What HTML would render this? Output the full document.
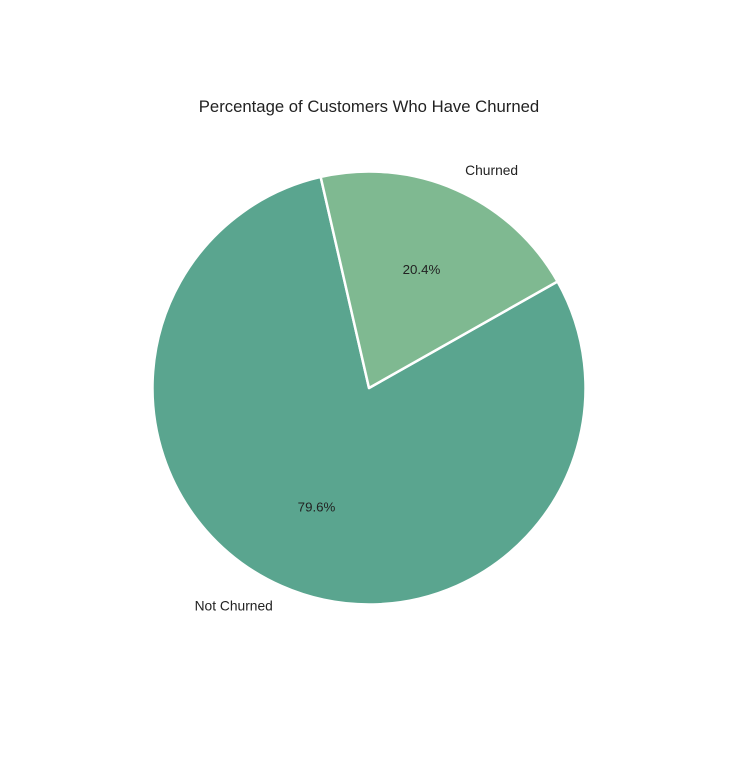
<!DOCTYPE html>
<html>
<head>
<meta charset="utf-8">
<style>
  html,body{margin:0;padding:0;background:#fff;}
  svg{display:block;font-family:"Liberation Sans",Arial,sans-serif;}
</style>
</head>
<body>
<svg id="chart" width="739" height="759" viewBox="0 0 739 759">
  <text x="369" y="112" text-anchor="middle" font-size="16.7" fill="#222">Percentage of Customers Who Have Churned</text>
  <g id="slices"></g>
</svg>
<script>
const categories = ["Not Churned", "Churned"];
const values = [79.6, 20.4];
const pctLabels = ["79.6%", "20.4%"];
const colors = ["#5aa58f", "#7fb991"];

const cx = 369, cy = 388, r = 216.5, startAngle = 102.9;
const g = document.getElementById('slices');
const ns = "http://www.w3.org/2000/svg";
const total = values.reduce((a,b)=>a+b,0);
function pt(angDeg, rad){ const a = angDeg*Math.PI/180; return [cx + rad*Math.cos(a), cy - rad*Math.sin(a)]; }
let a0 = startAngle;
values.forEach((v,i)=>{
  const sweep = v/total*360;
  const a1 = a0 + sweep;
  const p0 = pt(a0,r), p1 = pt(a1,r);
  const large = sweep > 180 ? 1 : 0;
  const path = document.createElementNS(ns,'path');
  path.setAttribute('d', `M${cx},${cy} L${p0[0]},${p0[1]} A${r},${r} 0 ${large} 0 ${p1[0]},${p1[1]} Z`);
  path.setAttribute('fill', colors[i]);
  path.setAttribute('stroke', '#fff');
  path.setAttribute('stroke-width', '2.5');
  path.setAttribute('stroke-linejoin', 'round');
  
  
  g.appendChild(path);
  const mid = (a0 + a1)/2;
  const lp = pt(mid, r*1.1);
  const lab = document.createElementNS(ns,'text');
  lab.setAttribute('x', lp[0]);
  lab.setAttribute('y', lp[1]);
  lab.setAttribute('dy', '0.35em');
  lab.setAttribute('font-size', '13.8');
  lab.setAttribute('fill', '#222');
  lab.setAttribute('text-anchor', Math.cos(mid*Math.PI/180) >= 0 ? 'start' : 'end');
  lab.textContent = categories[i];
  
  
  g.appendChild(lab);
  const pp = pt(mid, r*0.6);
  const pct = document.createElementNS(ns,'text');
  pct.setAttribute('x', pp[0]);
  pct.setAttribute('y', pp[1]);
  pct.setAttribute('dy', '0.35em');
  pct.setAttribute('font-size', '13.3');
  pct.setAttribute('fill', '#222');
  pct.setAttribute('text-anchor', 'middle');
  pct.textContent = pctLabels[i];
  
  
  g.appendChild(pct);
  a0 = a1;
});
</script>
</body>
</html>
